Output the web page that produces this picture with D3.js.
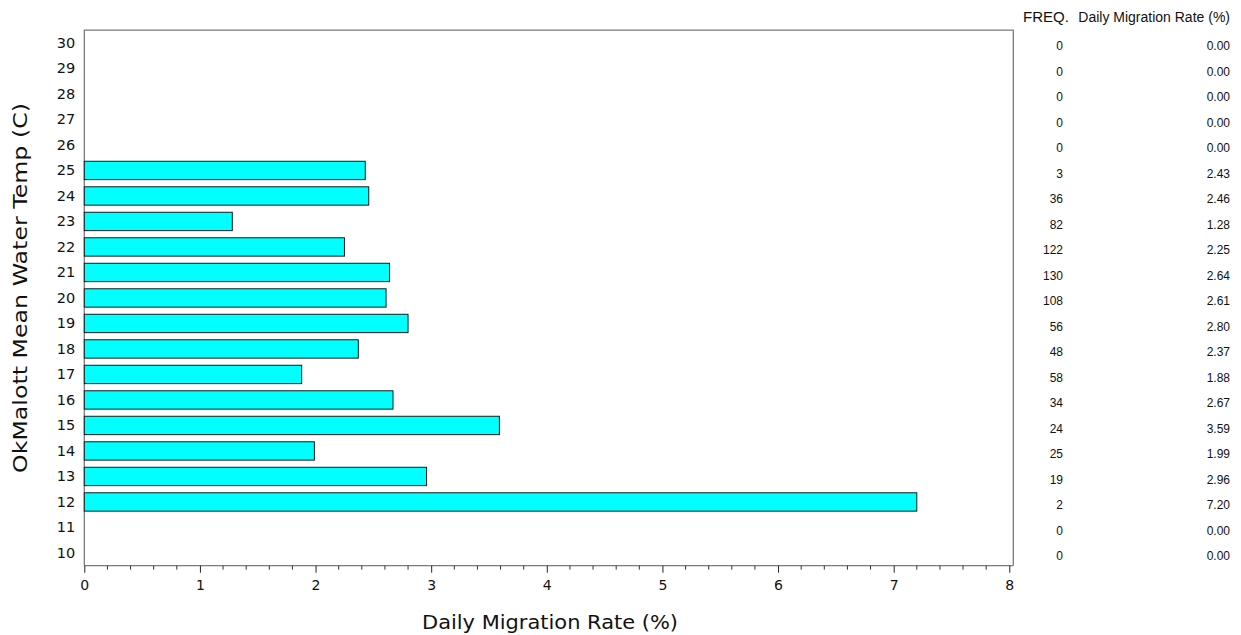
<!DOCTYPE html>
<html><head><meta charset="utf-8">
<script src="https://cdn.jsdelivr.net/npm/d3@7"></script>
<style>body{margin:0;background:#fff}svg{display:block}</style>
</head><body>
<svg id="c" width="1241" height="635"></svg>
<script>
const temps = [10,11,12,13,14,15,16,17,18,19,20,21,22,23,24,25,26,27,28,29,30];
const rates = [0,0,7.20,2.96,1.99,3.59,2.67,1.88,2.37,2.80,2.61,2.64,2.25,1.28,2.46,2.43,0,0,0,0,0];
const freqs = [0,0,2,19,25,24,34,58,48,56,108,130,122,82,36,3,0,0,0,0,0];
const xTicks = [0,1,2,3,4,5,6,7,8];
const xTitle = "Daily Migration Rate (%)";
const yTitle = "OkMalott Mean Water Temp (C)";
const tableHeaders = ["FREQ.", "Daily Migration Rate (%)"];

const svg = d3.select("#c");
const L = 84.3, R = 1013.3, T = 30.2, B = 565.7;
const x = d3.scaleLinear().domain([0, 8]).range([L, 1009.3]);
const y = d3.scaleBand().domain(temps.slice().reverse()).range([T, B]).paddingInner(0.28).paddingOuter(0.14);

// frame
svg.append("path").attr("d", `M${L},${B}V${T}H${R}V${B}`).attr("fill", "none").attr("stroke", "#7a7a7a").attr("stroke-width", 1.3);

// bars
const data = temps.map((t, i) => ({t, r: rates[i], f: freqs[i]}));
svg.append("g").selectAll("rect").data(data.filter(d => d.r > 0)).join("rect")
  .attr("x", x(0)).attr("y", d => y(d.t))
  .attr("width", d => x(d.r) - x(0)).attr("height", y.bandwidth())
  .attr("fill", "#00ffff").attr("stroke", "#1a1a1a").attr("stroke-width", 1);

// x axis
const xa = svg.append("g").attr("transform", `translate(0,${B})`)
  .call(d3.axisBottom(x).tickValues(xTicks).tickFormat(d3.format("d")).tickSize(7).tickPadding(7));
xa.select(".domain").attr("stroke", "#7a7a7a").attr("stroke-width", 1.3).attr("d", `M${L},0H${R}`);
xa.selectAll(".tick line").attr("stroke", "#222");
xa.selectAll("text").attr("font-family", "DejaVu Sans, Verdana, sans-serif").attr("font-size", 14).attr("fill", "#111");
const minor = d3.range(0, 8.001, 0.2).filter(v => Math.abs(v - Math.round(v)) > 1e-6);
svg.append("g").selectAll("line").data(minor).join("line")
  .attr("x1", d => x(d)).attr("x2", d => x(d)).attr("y1", B).attr("y2", B + 4)
  .attr("stroke", "#333");

// y axis labels
const ya = svg.append("g").attr("transform", `translate(${L},0)`)
  .call(d3.axisLeft(y).tickSize(0).tickPadding(9));
ya.select(".domain").remove();
ya.selectAll("text").attr("font-family", "DejaVu Sans, Verdana, sans-serif").attr("font-size", 14.5).attr("fill", "#111");

// titles
svg.append("text").attr("x", 550).attr("y", 629).attr("text-anchor", "middle")
  .attr("font-family", "DejaVu Sans, Verdana, sans-serif").attr("font-size", 20).attr("fill", "#111")
  .attr("textLength", 256).attr("lengthAdjust", "spacingAndGlyphs").text(xTitle);
svg.append("text").attr("transform", "translate(27,288) rotate(-90)").attr("text-anchor", "middle")
  .attr("font-family", "DejaVu Sans, Verdana, sans-serif").attr("font-size", 20).attr("fill", "#111")
  .attr("textLength", 370).attr("lengthAdjust", "spacingAndGlyphs").text(yTitle);

// table
const tf = "Liberation Sans, Arial, sans-serif";
svg.append("text").attr("x", 1023).attr("y", 22).attr("font-family", tf).attr("font-size", 14).attr("fill", "#111")
  .attr("textLength", 46).attr("lengthAdjust", "spacingAndGlyphs").text(tableHeaders[0]);
svg.append("text").attr("x", 1230).attr("y", 22).attr("text-anchor", "end").attr("font-family", tf).attr("font-size", 14).attr("fill", "#111").text(tableHeaders[1]);
const rows = svg.append("g").selectAll("g").data(data).join("g")
  .attr("transform", d => `translate(0,${y(d.t) + y.bandwidth() / 2 + 7.5})`);
rows.append("text").attr("x", 1063).attr("text-anchor", "end").attr("font-family", tf).attr("font-size", 12).attr("fill", "#111").text(d => d.f);
rows.append("text").attr("x", 1230).attr("text-anchor", "end").attr("font-family", tf).attr("font-size", 12).attr("fill", "#111").text(d => d.r.toFixed(2));
</script>
</body></html>
